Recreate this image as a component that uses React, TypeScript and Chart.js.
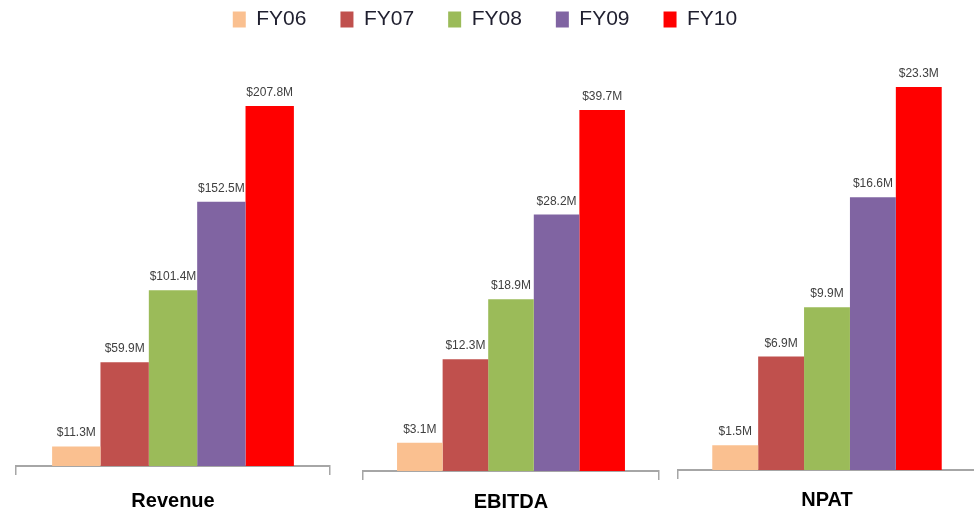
import React, { useEffect, useRef } from "react";
import { Chart, registerables } from "chart.js";

Chart.register(...registerables);

// Fiscal years and their bar colours
const years = ["FY06", "FY07", "FY08", "FY09", "FY10"];
const colors = ["#FAC090", "#C0504D", "#9BBB59", "#8064A2", "#FF0000"];

// Metric names and values in $M
const metrics = ["Revenue", "EBITDA", "NPAT"];
const revenue = [11.3, 59.9, 101.4, 152.5, 207.8];
const ebitda = [3.1, 12.3, 18.9, 28.2, 39.7];
const npat = [1.5, 6.9, 9.9, 16.6, 23.3];

const SANS = "'Liberation Sans', Arial, sans-serif";
const AXIS_GREY = "#A6A6A6";

type Panel = {
  name: string;
  values: number[];
  left: number;
  width: number;
  padding: { top: number; bottom: number; left: number; right: number };
  tickPad: number;
  yMax: number;
};

const panels: Panel[] = [
  { name: metrics[0], values: revenue, left: 0, width: 340, padding: { top: 40, bottom: 3, left: 16, right: 10 }, tickPad: 14, yMax: 245.9 },
  { name: metrics[1], values: ebitda, left: 340, width: 328, padding: { top: 40, bottom: 6, left: 23, right: 9 }, tickPad: 10, yMax: 47.4 },
  { name: metrics[2], values: npat, left: 668, width: 316, padding: { top: 40, bottom: 9, left: 10, right: 8 }, tickPad: 9, yMax: 26.16 },
];

// Writes "$xx.xM" above every bar
const valueLabels = {
  id: "valueLabels",
  afterDatasetsDraw(chart: any) {
    const ctx = chart.ctx;
    ctx.save();
    ctx.font = `12px ${SANS}`;
    ctx.fillStyle = "#404040";
    ctx.textAlign = "center";
    ctx.textBaseline = "alphabetic";
    chart.data.datasets.forEach((ds: any, i: number) => {
      const meta = chart.getDatasetMeta(i);
      meta.data.forEach((bar: any, j: number) => {
        const v = ds.data[j] as number;
        ctx.fillText(`$${v.toFixed(1)}M`, bar.x, bar.y - 10);
      });
    });
    ctx.restore();
  },
};

function PanelChart({ panel }: { panel: Panel }) {
  const ref = useRef<HTMLCanvasElement>(null);
  useEffect(() => {
    const chart = new Chart(ref.current!, {
      type: "bar",
      data: {
        labels: [panel.name],
        datasets: years.map((y, i) => ({
          label: y,
          data: [panel.values[i]],
          backgroundColor: colors[i],
          borderWidth: 0,
          categoryPercentage: 0.77,
          barPercentage: 1,
        })),
      },
      options: {
        animation: false,
        responsive: false,
        maintainAspectRatio: false,
        layout: { padding: panel.padding },
        plugins: { legend: { display: false }, tooltip: { enabled: false } },
        scales: {
          x: {
            grid: {
              display: true,
              offset: true,
              drawOnChartArea: false,
              drawTicks: true,
              tickLength: 9,
              color: AXIS_GREY,
              lineWidth: 1.5,
            },
            border: { display: true, color: AXIS_GREY, width: 2 },
            ticks: {
              color: "#000000",
              padding: panel.tickPad,
              font: { family: SANS, size: 20, weight: "bold" },
            },
          },
          y: { display: false, min: 0, max: panel.yMax },
        },
      },
      plugins: [valueLabels],
    });
    return () => chart.destroy();
  }, [panel]);
  return (
    <canvas
      ref={ref}
      width={panel.width}
      height={530}
      style={{ position: "absolute", left: panel.left, top: 0, width: panel.width, height: 530 }}
    />
  );
}

function LegendChart() {
  const ref = useRef<HTMLCanvasElement>(null);
  useEffect(() => {
    const chart = new Chart(ref.current!, {
      type: "bar",
      data: {
        labels: [],
        datasets: years.map((y, i) => ({ label: y, data: [], backgroundColor: colors[i], borderWidth: 0 })),
      },
      options: {
        animation: false,
        responsive: false,
        maintainAspectRatio: false,
        plugins: {
          tooltip: { enabled: false },
          legend: {
            display: true,
            position: "top",
            labels: {
              boxWidth: 13,
              boxHeight: 16,
              padding: 34,
              color: "#1F1F2F",
              font: { family: SANS, size: 21 },
            },
          },
        },
        scales: { x: { display: false }, y: { display: false } },
      },
    });
    return () => chart.destroy();
  }, []);
  return (
    <canvas
      ref={ref}
      width={970}
      height={300}
      style={{ position: "absolute", left: 0, top: -25, width: 970, height: 300, pointerEvents: "none" }}
    />
  );
}

export default function App() {
  return (
    <div
      style={{
        position: "absolute",
        left: 0,
        top: 0,
        width: 974,
        height: 514,
        overflow: "hidden",
        background: "#ffffff",
      }}
    >
      {panels.map((p) => (
        <PanelChart key={p.name} panel={p} />
      ))}
      <LegendChart />
    </div>
  );
}
